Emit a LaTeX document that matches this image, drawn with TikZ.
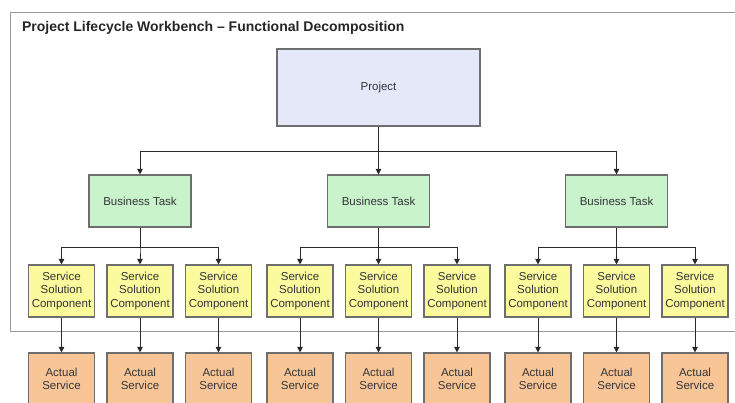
\documentclass[tikz,border=0pt]{standalone}
\usepackage{fontspec}
\setmainfont{Liberation Sans}
\usetikzlibrary{positioning,arrows.meta}
\definecolor{projfill}{HTML}{E4E8F8}
\definecolor{taskfill}{HTML}{C9F3CB}
\definecolor{compfill}{HTML}{FBFA9C}
\definecolor{servfill}{HTML}{F8C696}
\definecolor{boxline}{HTML}{6E6E6E}
\definecolor{framecol}{HTML}{9A9A9A}
\definecolor{linkcol}{HTML}{2A2A2A}
\definecolor{labeltext}{HTML}{34343A}

\begin{document}
\begin{tikzpicture}[x=1pt,y=-1pt,
    box/.style={draw=boxline,line width=1.1pt,inner sep=0pt,align=center,text=labeltext,
        font=\fontsize{11.5}{13.5}\selectfont},
    proj/.style={box,fill=projfill,minimum width=203pt,minimum height=77pt},
    task/.style={box,fill=taskfill,minimum width=102pt,minimum height=52pt},
    comp/.style={box,fill=compfill,minimum width=66pt,minimum height=52pt},
    serv/.style={box,fill=servfill,minimum width=66pt,minimum height=52pt},
    link/.style={draw=linkcol,line width=1pt,-{Triangle[length=5.5pt,width=5.5pt]}}]
                \useasboundingbox (0,0) rectangle (735,402);
                \clip (0,0) rectangle (735,402);
                % outer frame, open to the right and below the components
                \draw[framecol,line width=1pt] (10,12) rectangle (745,331);
                \node[anchor=base west,text=black!85,font=\bfseries\fontsize{14}{16}\selectfont] (title) at (18.5,31)
                    {Project Lifecycle Workbench – Functional Decomposition};
                \node[proj] (project) at (378.5,87.5) {Project};
                % three tasks, each with three components and services
                \foreach \t/\x in {1/140,2/378.5,3/616.5} {
                    \node[task] (task\t) at (\x,201) {Business Task};
                    \draw[link] (project.south) -- ++(0,25) -| (task\t.north);
                    \foreach \c/\dx in {1/-78.5,2/0,3/78.5} {
                        \node[comp] (comp\t\c) at (\x+\dx,291) {Service\\Solution\\Component};
                        \node[serv] (serv\t\c) at (\x+\dx,379) {Actual\\Service};
                        \draw[link] (task\t.south) -- ++(0,20) -| (comp\t\c.north);
                        \draw[link] (comp\t\c.south) -- (serv\t\c.north);
                    }
                }
            \end{tikzpicture}
\end{document}
